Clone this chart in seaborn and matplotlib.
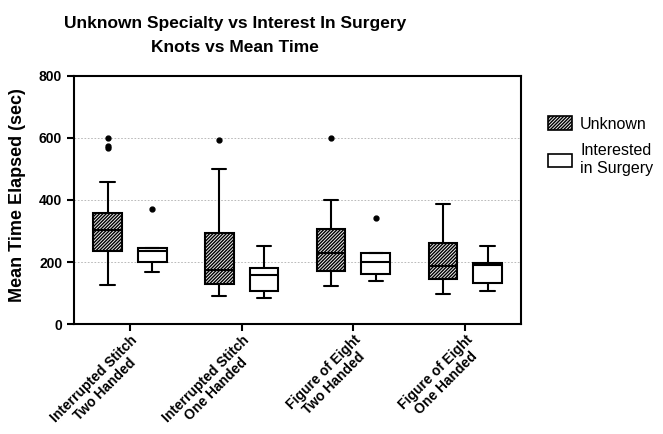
import numpy as np
import pandas as pd
import matplotlib
matplotlib.use("Agg")
import matplotlib.pyplot as plt
from matplotlib.patches import Patch
import seaborn as sns

# Knot types (x categories)
knots = ["Interrupted Stitch\nTwo Handed", "Interrupted Stitch\nOne Handed",
         "Figure of Eight\nTwo Handed", "Figure of Eight\nOne Handed"]
groups = ["Unknown", "Interested\nin Surgery"]

# Mean time elapsed (sec), estimated samples read off the boxes/whiskers/outliers
unknown_times = [
    [125, 170, 200, 225, 237, 255, 270, 290, 304, 315, 330, 345, 359, 458, 568, 573, 600],
    [91, 110, 129, 150, 176, 230, 295, 501, 593],
    [122, 150, 171.5, 200, 231, 270, 308, 399, 600],
    [96.5, 147, 189, 263, 387],
]
interested_times = [
    [168, 199.5, 236, 244, 370],
    [83, 108, 157, 182, 252],
    [140, 161, 199.5, 229, 341],
    [106, 132, 190, 197, 252],
]

rows = []
for knot, u, s in zip(knots, unknown_times, interested_times):
    rows += [(knot, groups[0], v) for v in u]
    rows += [(knot, groups[1], v) for v in s]
df = pd.DataFrame(rows, columns=["knot", "group", "time"])

sns.set_theme(style="ticks")
plt.rcParams["font.family"] = ["Liberation Sans", "DejaVu Sans"]
plt.rcParams["hatch.linewidth"] = 1.0
plt.rcParams["text.color"] = "black"
plt.rcParams["axes.labelcolor"] = "black"
plt.rcParams["xtick.color"] = "black"
plt.rcParams["ytick.color"] = "black"

fig = plt.figure(figsize=(6.63, 4.34), dpi=100)
ax = fig.add_axes([0.1116, 0.2528, 0.6744, 0.5728])

sns.boxplot(data=df, x="knot", y="time", hue="group", order=knots, hue_order=groups,
            palette={groups[0]: "white", groups[1]: "white"}, width=0.8, gap=0.36,
            linecolor="black", linewidth=1.5, whis=1.5,
            flierprops=dict(marker="o", markersize=3.5, markerfacecolor="black",
                            markeredgecolor="black"),
            legend=False, ax=ax)

# hatch the "Unknown" boxes (left of each category position)
for p in ax.patches:
    cx = p.get_path().vertices[:, 0].mean()
    if cx - round(cx) < 0:
        p.set_hatch("//////////")
        p.set_facecolor("#eeeeee")

ax.set_ylim(0, 800)
ax.set_xlim(-0.5, 3.5)
ax.set_yticks([0, 200, 400, 600, 800])
ax.yaxis.grid(True, linestyle=(0, (2, 2)), color="#b0b0b0", linewidth=0.6)
ax.set_axisbelow(True)
for s in ax.spines.values():
    s.set_linewidth(1.5)
    s.set_color("black")
ax.tick_params(axis="both", width=1.5, length=5, color="black", labelcolor="black")
ax.tick_params(axis="x", pad=1)

ax.set_xlabel("")
ax.set_ylabel("Mean Time Elapsed (sec)", fontsize=13, fontweight="bold", labelpad=9)
ax.yaxis.label.set_y(0.52)
for t in ax.get_yticklabels():
    t.set_fontweight("bold")
    t.set_fontsize(10)
ax.set_xticks(range(len(knots)))
ax.set_xticklabels(knots, rotation=45, ha="right", rotation_mode="anchor",
                   fontsize=10, fontweight="bold", multialignment="center",
                   linespacing=1.1)

fig.suptitle("Unknown Specialty vs Interest In Surgery\nKnots vs Mean Time",
             x=0.354, y=0.962, fontsize=12.5, fontweight="bold", linespacing=1.75)

handles = [Patch(facecolor="#eeeeee", edgecolor="black", hatch="//////////", linewidth=1.2),
           Patch(facecolor="white", edgecolor="black", linewidth=1.2)]
fig.legend(handles, groups, loc="upper left", bbox_to_anchor=(0.805, 0.765),
           frameon=False, fontsize=11.5, handlelength=1.5, handleheight=0.9,
           labelspacing=0.75, handletextpad=0.5)

fig.savefig("out.png", dpi=100)
